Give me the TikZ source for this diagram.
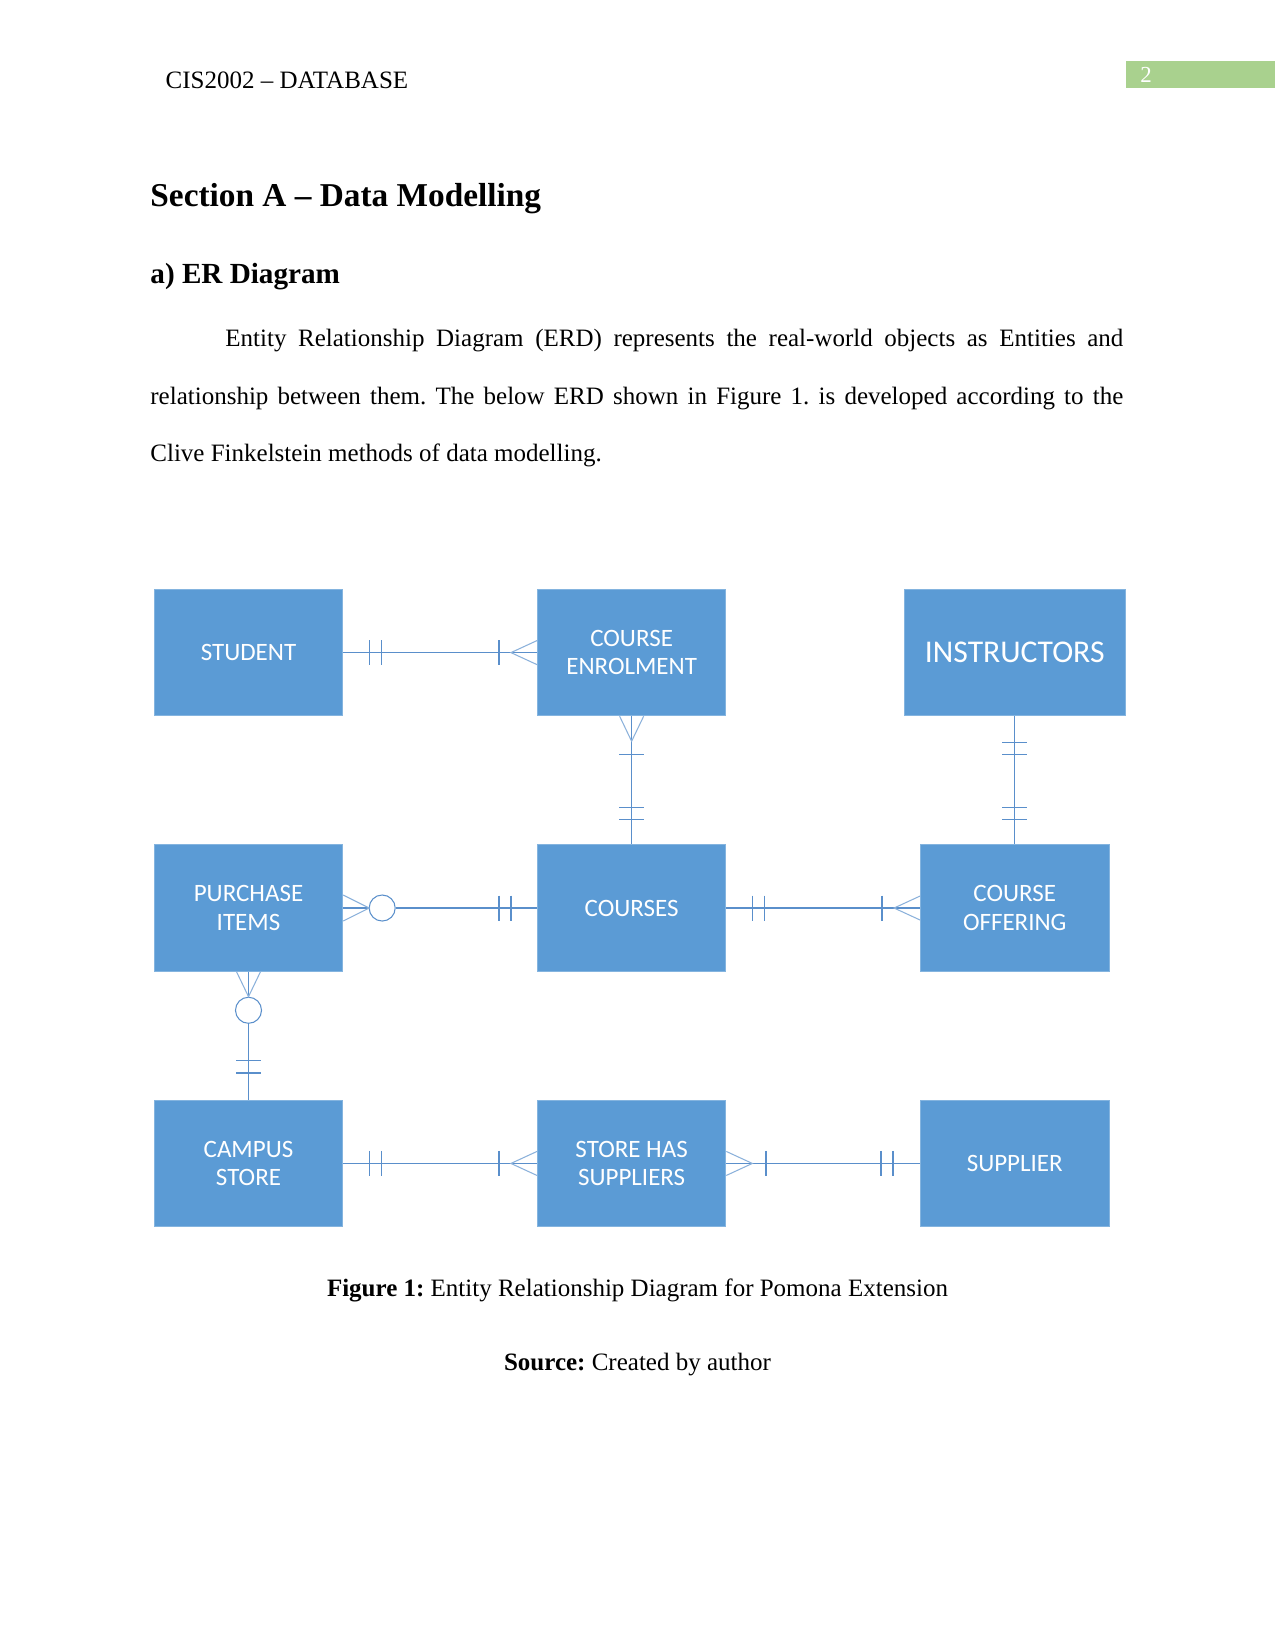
\documentclass[tikz,border=0pt]{standalone}
\usepackage{fontspec}
\setmainfont{Liberation Serif}
\newfontfamily\erfont{Carlito}
\usetikzlibrary{positioning,calc}
\definecolor{erblue}{HTML}{5B9BD5}
\definecolor{erline}{HTML}{5A8FCB}
\definecolor{pagegreen}{HTML}{A9D18E}
\frenchspacing
\tikzset{
  entity/.style={fill=erblue,draw=erblue!75!white,line width=0.4pt,text=white,align=center,
    minimum width=90.5pt,minimum height=60.7pt,inner sep=2pt,
    font=\erfont\fontsize{12}{13.6}\selectfont},
  bigentity/.style={entity,minimum width=106pt,font=\erfont\fontsize{15.2}{18}\selectfont},
  optcircle/.style={circle,draw=erline,line width=0.5pt,fill=white,minimum size=12.5pt,inner sep=0pt},
  rel/.style={draw=erline,line width=0.6pt},
  crow/.style={draw=erline!70!white,line width=0.5pt},
}

\begin{document}
\begin{tikzpicture}[x=0.48pt,y=-0.48pt,node distance=61.5pt and 93pt]
\fill[white] (0,0) rectangle (1275,1651);
% page header and text
\node[anchor=base west,inner sep=0,font=\fontsize{12}{14}\selectfont] (runhead) at (165.3,88.6) {CIS2002 -- DATABASE};
\fill[pagegreen] (1125.5,61) rectangle (1275,88.4);
\node[anchor=base west,inner sep=0,text=white,font=\fontsize{11}{13}\selectfont] (pagenum) at (1140,83) {2};
\node[anchor=base west,inner sep=0,font=\bfseries\fontsize{16}{19}\selectfont] (sect) at (150,207) {Section A -- Data Modelling};
\node[anchor=base west,inner sep=0,font=\bfseries\fontsize{14}{17}\selectfont] (subsect) at (150,283.5) {a) ER Diagram};
\node[anchor=north west,inner sep=0,text width=467pt,align=justify,font=\fontsize{12}{27.6}\selectfont] (para) at (150,329)
  {\hspace*{36pt}Entity Relationship Diagram (ERD) represents the real-world objects as Entities and\linebreak
   relationship between them. The below ERD shown in Figure 1. is developed according to the\linebreak
   Clive Finkelstein methods of data modelling.};

% entities
\node[entity] (student) at (248.5,652.6) {STUDENT};
\node[entity,right=of student] (enrol) {COURSE\\ENROLMENT};
\node[entity,below=of student] (purchase) {PURCHASE\\ITEMS};
\node[entity,right=of purchase] (courses) {COURSES};
\node[entity,right=of courses] (offer) {COURSE\\OFFERING};
\node[bigentity,above=of offer] (instr) {INSTRUCTORS};
\node[entity,below=of purchase] (campus) {CAMPUS\\STORE};
\node[entity,right=of campus] (storesup) {STORE HAS\\SUPPLIERS};
\node[entity,right=of storesup] (supplier) {SUPPLIER};
\node[optcircle] (opt1) at ($(purchase.east)+(39,0)$) {};
\node[optcircle] (opt2) at ($(purchase.south)+(0,38.6)$) {};

% student - enrolment
\draw[rel] (student) -- (enrol);
\draw[rel] ($(student.east)+(26,-12.5)$) -- ++(0,25);
\draw[rel] ($(student.east)+(38,-12.5)$) -- ++(0,25);
\draw[rel] ($(enrol.west)+(-38,-12.5)$) -- ++(0,25);
\draw[crow] ($(enrol.west)+(0,-12)$) -- ++(-26,12) -- ++(26,12);

% enrolment - courses
\draw[rel] (enrol) -- (courses);
\draw[crow] ($(enrol.south)+(-12,0)$) -- ++(12,25) -- ++(12,-25);
\draw[rel] ($(enrol.south)+(-12.5,38)$) -- ++(25,0);
\draw[rel] ($(courses.north)+(-12.5,-37)$) -- ++(25,0);
\draw[rel] ($(courses.north)+(-12.5,-25)$) -- ++(25,0);

% instructors - offering
\draw[rel] (instr) -- (offer);
\draw[rel] ($(instr.south)+(-12.5,26)$) -- ++(25,0);
\draw[rel] ($(instr.south)+(-12.5,38)$) -- ++(25,0);
\draw[rel] ($(offer.north)+(-12.5,-37)$) -- ++(25,0);
\draw[rel] ($(offer.north)+(-12.5,-25)$) -- ++(25,0);

% purchase items - courses
\draw[rel] (purchase) -- (opt1);
\draw[rel] (opt1) -- (courses);
\draw[crow] ($(purchase.east)+(0,-13)$) -- ++(26,13) -- ++(-26,13);
\draw[rel] ($(courses.west)+(-38,-12.5)$) -- ++(0,25);
\draw[rel] ($(courses.west)+(-26,-12.5)$) -- ++(0,25);

% courses - offering
\draw[rel] (courses) -- (offer);
\draw[rel] ($(courses.east)+(26,-12.5)$) -- ++(0,25);
\draw[rel] ($(courses.east)+(38,-12.5)$) -- ++(0,25);
\draw[rel] ($(offer.west)+(-38,-12.5)$) -- ++(0,25);
\draw[crow] ($(offer.west)+(0,-12)$) -- ++(-26,12) -- ++(26,12);

% purchase items - campus store
\draw[rel] (purchase) -- (opt2);
\draw[rel] (opt2) -- (campus);
\draw[crow] ($(purchase.south)+(-12,0)$) -- ++(12,25) -- ++(12,-25);
\draw[rel] ($(campus.north)+(-12.5,-39)$) -- ++(25,0);
\draw[rel] ($(campus.north)+(-12.5,-26.7)$) -- ++(25,0);

% campus store - store has suppliers
\draw[rel] (campus) -- (storesup);
\draw[rel] ($(campus.east)+(26,-12.5)$) -- ++(0,25);
\draw[rel] ($(campus.east)+(38,-12.5)$) -- ++(0,25);
\draw[rel] ($(storesup.west)+(-38,-12.5)$) -- ++(0,25);
\draw[crow] ($(storesup.west)+(0,-12)$) -- ++(-26,12) -- ++(26,12);

% store has suppliers - supplier
\draw[rel] (storesup) -- (supplier);
\draw[crow] ($(storesup.east)+(0,-12)$) -- ++(26,12) -- ++(-26,12);
\draw[rel] ($(storesup.east)+(39.6,-12.5)$) -- ++(0,25);
\draw[rel] ($(supplier.west)+(-39,-12.5)$) -- ++(0,25);
\draw[rel] ($(supplier.west)+(-27,-12.5)$) -- ++(0,25);

% caption
\node[anchor=base,inner sep=0,font=\fontsize{12}{14}\selectfont] (caption) at (637.5,1296) {\textbf{Figure 1:} Entity Relationship Diagram for Pomona Extension};
\node[anchor=base,inner sep=0,font=\fontsize{12}{14}\selectfont] (source) at (637.5,1370) {\textbf{Source:} Created by author};
\end{tikzpicture}
\end{document}
